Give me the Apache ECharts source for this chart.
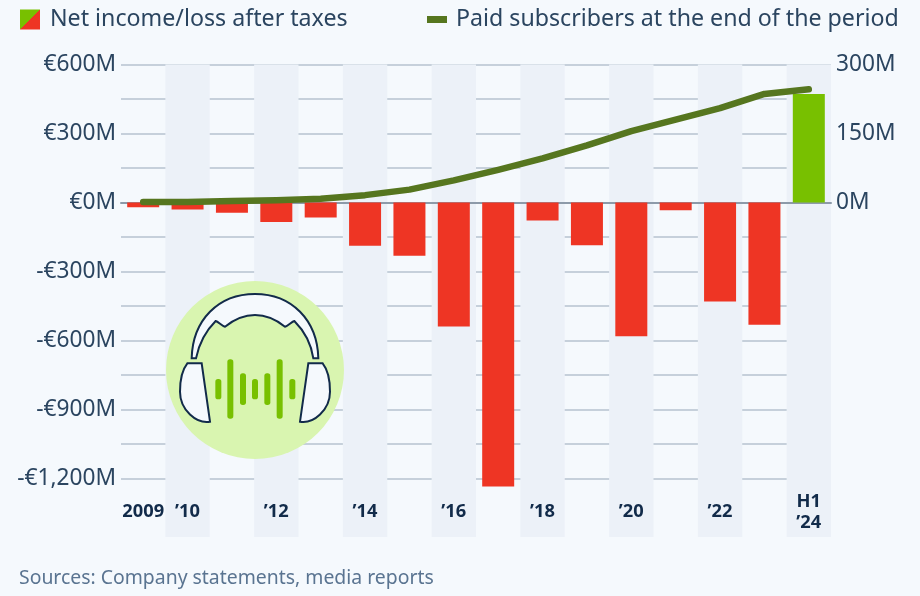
<!DOCTYPE html>
<html>
<head>
<meta charset="utf-8">
<style>html,body{margin:0;padding:0;background:#f5f9fd}#c{width:920px;height:596px}</style>
<script src="https://cdn.jsdelivr.net/npm/echarts@6/dist/echarts.min.js"></script>
</head>
<body>
<div id="c"></div>
<script>
const categories = ['2009','2010','2011','2012','2013','2014','2015','2016','2017','2018','2019','2020','2021','2022','2023','H1 2024'];
const tickLabels = ['2009','’10','','’12','','’14','','’16','','’18','','’20','','’22','','H1\n’24'];
const netIncome = [-21,-30,-45,-85,-65,-188,-232,-539,-1235,-78,-186,-581,-34,-430,-532,472];
const subscribers = [1,1,3,5,8,16,28,48,71,96,124,155,180,205,236,246];
const leftTicks = {'600':'€600M','300':'€300M','0':'€0M','-300':'-€300M','-600':'-€600M','-900':'-€900M','-1200':'-€1,200M'};
const rightTicks = {'300':'300M','150':'150M','0':'0M'};
const barName = 'Net income/loss after taxes';
const lineName = 'Paid subscribers at the end of the period';
const source = 'Sources: Company statements, media reports';

const font = '"Noto Sans","Open Sans",sans-serif';
const ink = '#2b4560', dark = '#122b4a', green = '#78c000', red = '#ee3524', olive = '#56761f';
const L = 121, R = 920 - 831, T = 64.5;

const wave = [[205,327,388],[241,268,446],[279,310,405],[315,327,388],[352,310,405],[389,268,446],[427,327,388]];
const cupStyle = {fill:'#f5f9fd',stroke:dark,lineWidth:6};

const chart = echarts.init(document.getElementById('c'), null, {renderer:'canvas'});
chart.setOption({
  animation:false,
  backgroundColor:'#f5f9fd',
  textStyle:{fontFamily:font},
  grid:[
    {left:L,right:R,top:T,height:414},
    {left:L,right:R,top:T,height:472.5}
  ],
  legend:[
    {left:20,top:5,itemWidth:20,itemHeight:20,padding:[3,0],
     textStyle:{fontSize:23.2,color:ink,fontFamily:font,padding:[0,0,0,5]},
     data:[{name:barName,icon:'rect',itemStyle:{color:{type:'linear',x:0,y:0,x2:1,y2:1,colorStops:[
       {offset:0,color:green},{offset:0.5,color:green},{offset:0.5,color:red},{offset:1,color:red}]}}}]},
    {left:427,top:5,itemWidth:20,itemHeight:7,padding:[3,0],
     textStyle:{fontSize:23.2,color:ink,fontFamily:font,padding:[0,0,0,4]},
     data:[{name:lineName,icon:'rect',itemStyle:{color:olive}}]}
  ],
  xAxis:[
    {type:'category',gridIndex:0,data:categories,boundaryGap:true,
     axisLine:{onZero:true,lineStyle:{color:'#8d9aa9',width:2}},axisTick:{show:false},axisLabel:{show:false},splitLine:{show:false}},
    {type:'category',gridIndex:1,data:categories,boundaryGap:true,
     axisLine:{show:false},axisTick:{show:false},
     splitLine:{show:false},
     splitArea:{show:true,interval:0,areaStyle:{color:['rgba(0,0,0,0)','#ecf1f8']}},
     axisLabel:{show:true,interval:0,inside:true,margin:25,fontSize:18.3,fontWeight:700,color:dark,lineHeight:21,
       verticalAlign:'middle',fontFamily:font,formatter:(v,i)=>tickLabels[i]}}
  ],
  yAxis:[
    {type:'value',gridIndex:0,min:-1200,max:600,interval:150,position:'left',
     axisLine:{show:false},axisTick:{show:false},
     splitLine:{show:true,lineStyle:{color:'#c6d0db',width:2}},
     axisLabel:{margin:5,fontSize:22.7,color:ink,fontFamily:font,hideOverlap:false,padding:[4,0,0,0],
       formatter:v=>leftTicks[String(v)]||''}},
    {type:'value',gridIndex:0,min:-600,max:300,interval:75,position:'right',
     axisLine:{show:false},axisTick:{show:false},splitLine:{show:false},
     axisLabel:{margin:5,fontSize:22.7,color:ink,fontFamily:font,hideOverlap:false,padding:[4,0,0,0],
       formatter:v=>rightTicks[String(v)]||''}},
    {type:'value',gridIndex:1,min:0,max:1,show:false}
  ],
  series:[
    {name:barName,type:'bar',xAxisIndex:0,yAxisIndex:0,barWidth:32,z:2,clip:false,
     data:netIncome.map(v=>({value:v,itemStyle:{color:v<0?red:green}}))},
    {name:lineName,type:'line',xAxisIndex:0,yAxisIndex:1,z:5,showSymbol:false,symbol:'none',
     lineStyle:{color:olive,width:6.5,cap:'round',join:'round'},itemStyle:{color:olive},data:subscribers},
    {name:'icon',type:'custom',coordinateSystem:'none',z:20,silent:true,data:[0],
     renderItem:()=>({type:'group',children:[
       {type:'circle',shape:{cx:255,cy:370,r:89},style:{fill:'#d9f5b0'}},
       {type:'group',x:150,y:270,scaleX:1/3,scaleY:1/3,children:[
         {type:'path',shape:{pathData:'M125,265 C128,150 205,72 315,72 C425,72 502,150 505,265 L490,265 C484,225 465,185 433,153 C425,155 415,168 405,170 C380,150 345,135 315,135 C285,135 250,150 225,170 C215,168 205,155 197,153 C165,185 146,225 138,265 Z'},style:cupStyle},
         {type:'path',shape:{pathData:'M112,280 L155,280 L180,455 C140,462 90,420 90,365 C90,325 100,295 112,280 Z'},style:cupStyle},
         {type:'path',shape:{pathData:'M518,280 L475,280 L450,455 C490,462 540,420 540,365 C540,325 530,295 518,280 Z'},style:cupStyle},
         ...wave.map(w=>({type:'rect',shape:{x:w[0]-9,y:w[1],width:18,height:w[2]-w[1],r:8},style:{fill:green}}))
       ]}
     ]})}
  ],
  graphic:[
    {type:'text',left:19,top:569,z:10,style:{text:source,fontSize:19.4,fill:'#5a7491',fontFamily:font}}
  ]
});
</script>
</body>
</html>
